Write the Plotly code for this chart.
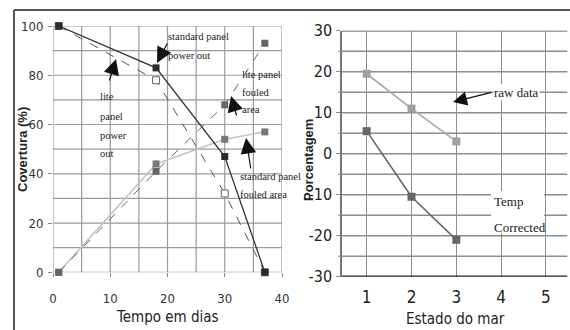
import plotly.graph_objects as go

# ---- Left chart data ----
dias = [1, 18, 30, 37]
std_power_out = [100, 83, 47, 0]
lite_power_out = [100, 78, 32, 0]
lite_fouled = [0, 41, 68, 93]
std_fouled = [0, 44, 54, 57]
left_xticks = [0, 10, 20, 30, 40]
left_yticks = [0, 20, 40, 60, 80, 100]

# ---- Right chart data ----
estado = [1, 2, 3]
raw_data = [19.5, 11, 3]
temp_corrected = [5.5, -10.5, -21]
right_xticks = [1, 2, 3, 4, 5]
right_yticks = [-30, -20, -10, 0, 10, 20, 30]
right_yticktext = ["-30", "-20", "-10", "0", "10", "20", "30"]

W, H = 570, 330
def px(x):
    return x / W
def py(y):
    return 1 - y / H

NARROW = "DejaVu Sans Condensed, Liberation Sans Narrow, Liberation Sans, sans-serif"
SERIF = "Liberation Serif, Times New Roman, serif"
BOLD = "Liberation Sans, Arial, sans-serif"

fig = go.Figure()

# Left traces
fig.add_trace(go.Scatter(x=dias, y=std_fouled, mode="lines+markers",
    line=dict(color="#c4c4c4", width=1.6),
    marker=dict(symbol="square", size=7, color="#777777"),
    xaxis="x", yaxis="y", cliponaxis=False, showlegend=False))
fig.add_trace(go.Scatter(x=dias, y=lite_fouled, mode="lines+markers",
    line=dict(color="#666666", width=1, dash="dash"),
    marker=dict(symbol="square", size=7, color="#666666"),
    xaxis="x", yaxis="y", cliponaxis=False, showlegend=False))
fig.add_trace(go.Scatter(x=dias, y=lite_power_out, mode="lines+markers",
    line=dict(color="#555555", width=1, dash="dash"),
    marker=dict(symbol="square", size=7, color="white", line=dict(color="#666666", width=1)),
    xaxis="x", yaxis="y", cliponaxis=False, showlegend=False))
fig.add_trace(go.Scatter(x=dias, y=std_power_out, mode="lines+markers",
    line=dict(color="#333333", width=1.3),
    marker=dict(symbol="square", size=7, color="#2a2a2a"),
    xaxis="x", yaxis="y", cliponaxis=False, showlegend=False))

# Right traces
fig.add_trace(go.Scatter(x=estado, y=raw_data, mode="lines+markers",
    line=dict(color="#a8a8a8", width=1.6),
    marker=dict(symbol="square", size=8, color="#a0a0a0"),
    xaxis="x2", yaxis="y2", cliponaxis=False, showlegend=False))
fig.add_trace(go.Scatter(x=estado, y=temp_corrected, mode="lines+markers",
    line=dict(color="#666666", width=1.6),
    marker=dict(symbol="square", size=8, color="#666666"),
    xaxis="x2", yaxis="y2", cliponaxis=False, showlegend=False))

fig.update_layout(
    width=W, height=H, margin=dict(l=0, r=0, t=0, b=0, autoexpand=False),
    paper_bgcolor="white", plot_bgcolor="white",
    xaxis=dict(domain=[px(53), px(282)], range=[0, 40], tickvals=left_xticks,
               showgrid=False, zeroline=False, automargin=False,
               ticks="outside", ticklen=4, tickcolor="#888", ticklabelstandoff=10,
               tickfont=dict(family=NARROW, size=13, color="#333"),
               showline=False, anchor="y"),
    yaxis=dict(domain=[py(272.3), py(26)], range=[0, 100], tickvals=left_yticks,
               showgrid=False, zeroline=False, automargin=False,
               ticks="outside", ticklen=4, tickcolor="#888", ticklabelstandoff=2,
               tickfont=dict(family=NARROW, size=13, color="#333"),
               showline=False, anchor="x"),
    xaxis2=dict(domain=[px(342), px(567.5)], range=[0.45, 5.48], tickvals=right_xticks,
                showgrid=True, gridcolor="#8c8c8c", gridwidth=1.3, zeroline=False,
                automargin=False, ticks="", ticklabelstandoff=8,
                tickfont=dict(family=NARROW, size=17, color="#222"),
                showline=False, anchor="y2"),
    yaxis2=dict(domain=[py(276.7), py(30.7)], range=[-30, 30], tickvals=right_yticks,
                ticktext=right_yticktext,
                showgrid=False, zeroline=False, automargin=False,
                ticks="outside", ticklen=4, tickcolor="#888", ticklabelstandoff=1,
                tickfont=dict(family=NARROW, size=16, color="#222"),
                showline=True, linecolor="#777", linewidth=1.5, anchor="x2"),
)

shapes = []
# Left grid: horizontal every 10, vertical every 5
for v in range(0, 101, 10):
    shapes.append(dict(type="line", xref="x", yref="y", x0=0, x1=40, y0=v, y1=v,
                       line=dict(color="#9a9a9a", width=1.2), layer="below"))
for v in range(0, 41, 5):
    shapes.append(dict(type="line", xref="x", yref="y", x0=v, x1=v, y0=0, y1=100,
                       line=dict(color="#9a9a9a", width=1.2), layer="below"))
# Right grid: horizontal every 5
for v in range(-25, 30, 5):
    shapes.append(dict(type="line", xref="x2", yref="y2", x0=0.45, x1=5.48, y0=v, y1=v,
                       line=dict(color="#8c8c8c", width=1.4), layer="below"))
# right chart top and bottom dark borders
shapes.append(dict(type="line", xref="x2", yref="y2", x0=0.45, x1=5.48, y0=30, y1=30,
                   line=dict(color="#444", width=1.8), layer="below"))
shapes.append(dict(type="line", xref="x2", yref="y2", x0=0.45, x1=5.48, y0=-30, y1=-30,
                   line=dict(color="#222", width=2.2), layer="above"))
# right minor tick marks on y
for v in range(-25, 30, 10):
    shapes.append(dict(type="line", xref="paper", yref="y2", x0=px(338), x1=px(342), y0=v, y1=v,
                       line=dict(color="#888", width=1)))
# outer frame
shapes.append(dict(type="line", xref="paper", yref="paper", x0=px(14), x1=1, y0=py(10), y1=py(10),
                   line=dict(color="#555", width=2)))
shapes.append(dict(type="line", xref="paper", yref="paper", x0=px(14), x1=px(14), y0=py(10), y1=0,
                   line=dict(color="#555", width=2)))
# white box behind "Temp Corrected"
shapes.append(dict(type="rect", xref="paper", yref="paper", x0=px(491), x1=px(544),
                   y0=py(233), y1=py(191), fillcolor="white", line=dict(width=0), layer="above"))
fig.update_layout(shapes=shapes)

ann = []
def text(x, y, t, size=10.5, family=SERIF, xanchor="left", bg=None, color="#222", angle=0):
    d = dict(xref="paper", yref="paper", x=px(x), y=py(y), text=t, showarrow=False,
             xanchor=xanchor, yanchor="middle", textangle=angle, borderpad=0,
             font=dict(family=family, size=size, color=color))
    if bg:
        d["bgcolor"] = bg
    ann.append(d)

def arrow(x0, y0, x1, y1, size=2.6, width=1.2):
    ann.append(dict(xref="paper", yref="paper", axref="pixel", ayref="pixel",
                    x=px(x1), y=py(y1), ax=x0 - x1, ay=y0 - y1, text="",
                    showarrow=True, arrowhead=2, arrowsize=size, arrowwidth=width,
                    arrowcolor="#111"))

# Left annotations
text(167, 37, "standard panel")
text(167, 56, "power out")
arrow(168, 42, 157, 63)
text(99, 96, "lite")
text(99, 116, "panel")
text(99, 135, "power")
text(99, 153, "out")
arrow(109, 82, 116, 59)
text(241, 74, "lite panel")
text(241, 92, "fouled")
text(241, 109, "area")
arrow(237, 117, 231, 96)
text(239, 176, "standard panel")
text(239, 194, "fouled area")
arrow(251, 170, 246, 138)

# Right annotations
text(493, 92, "raw data", size=13, bg="white")
arrow(493, 92, 453, 102, size=2.0, width=1.4)
text(493, 201, "Temp", size=13)
text(493, 227, "Corrected", size=13)

# Axis titles
text(22, 150, "<b>Covertura (%)</b>", size=13, family=BOLD, xanchor="center", angle=-90)
text(167, 317, "Tempo em dias", size=15, family=NARROW, xanchor="center")
text(308, 160, "<b>Porcentagem</b>", size=13, family=BOLD, xanchor="center", angle=-90)
text(455, 319, "Estado do mar", size=15, family=NARROW, xanchor="center")

fig.update_layout(annotations=ann)
fig.write_html("out.html", config={"displayModeBar": False},
               post_script="document.body.style.margin='0';document.body.style.padding='0';")
